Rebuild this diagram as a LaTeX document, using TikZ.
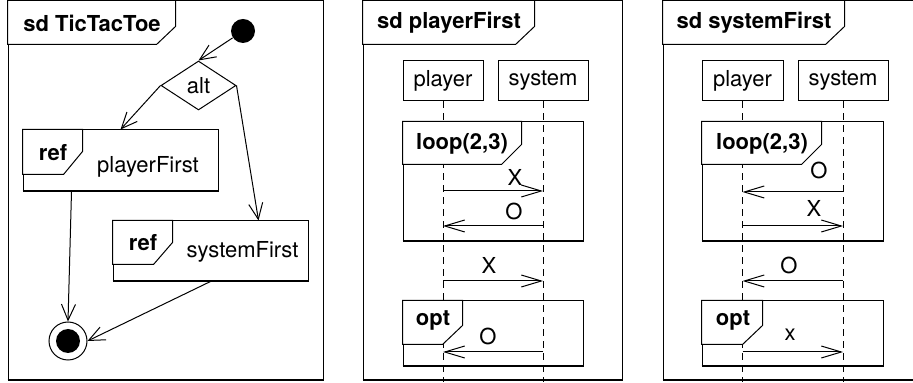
\documentclass[tikz,border=0pt]{standalone}
\usepackage{fontspec}
\setmainfont{TeX Gyre Heros}
\usetikzlibrary{shapes.geometric,arrows.meta,calc}

\begin{document}
\begin{tikzpicture}[x=0.5pt,y=-0.5pt,font=\fontsize{11}{13}\selectfont]
\tikzstyle{box}=[rectangle, draw=black, line width=0.5pt, inner sep=0pt]
\tikzstyle{life}=[box, minimum height=20pt]
\tikzstyle{head}=[draw=black, fill=white, line width=0.5pt]
\tikzstyle{bottom}=[line width=1pt]
\tikzstyle{bold}=[font=\fontsize{11}{13}\selectfont\bfseries]
\tikzstyle{lline}=[dash pattern=on 3.5pt off 2.5pt, line width=0.5pt]
\tikzstyle{flow}=[-{Straight Barb[length=8pt,width=7pt]}, line width=0.5pt]
\tikzstyle{msg}=[-{Straight Barb[length=10pt,width=6pt]}, line width=0.5pt]
\tikzstyle{start}=[circle, fill=black, minimum size=12pt, inner sep=0pt]
\tikzstyle{stop}=[circle, draw=black, line width=0.5pt, minimum size=19pt, inner sep=0pt]
\tikzstyle{choice}=[diamond, draw=black, line width=0.5pt, minimum width=37.5pt, minimum height=24.5pt, inner sep=0pt]

	\useasboundingbox (0,0) rectangle (913,383);

	% sd TicTacToe
	\node[box, minimum width=157.5pt, minimum height=189.5pt] (f1) at (165.5,190.5) {};
	\draw[head] (f1.north west) -- ++(168,0) -- ++(0,26) -- ++(-19,18) -- ++(-149,0) -- cycle;
	\draw[bottom] (f1.south west) -- (f1.south east);
	\node[bold] (t1) at (92,23) {sd TicTacToe};

	\node[start] (init) at (243,31) {};
	\node[choice] (alt) at (198.5,85.5) {alt};

	\node[box, minimum width=97.5pt, minimum height=30.5pt] (pf) at (120.5,160.5) {};
	\draw[head] (pf.north west) -- ++(60,0) -- ++(0,22) -- ++(-19,23) -- ++(-41,0) -- cycle;
	\draw[bottom] (pf.south west) -- (pf.south east);
	\node[bold] (pfr) at (53,152.5) {ref};
	\node (pfn) at (148,167) {playerFirst};

	\node[box, minimum width=97.5pt, minimum height=30pt] (sf) at (210.5,251) {};
	\draw[head] (sf.north west) -- ++(60,0) -- ++(0,22) -- ++(-19,22) -- ++(-41,0) -- cycle;
	\draw[bottom] (sf.south west) -- (sf.south east);
	\node[bold] (sfr) at (143,242.5) {ref};
	\node (sfn) at (242.5,251.5) {systemFirst};

	\node[stop] (fin) at (68,341) {};
	\node[start] (fin2) at (68,341) {};

	\path
		(init) edge [flow] (alt.north)
		(alt.west) edge [flow] (pf.north)
		(alt.east) edge [flow] ($(sf.north west)+(146,0)$)
		($(pf.south west)+(49,0)$) edge [flow] (fin.north)
		(sf.south) edge [flow] (fin.east);

	% sd playerFirst
	\node[box, minimum width=129.5pt, minimum height=189.5pt] (f2) at (492.5,190.5) {};
	\draw[head] (f2.north west) -- ++(172,0) -- ++(0,26) -- ++(-19,18) -- ++(-153,0) -- cycle;
	\draw[bottom] (f2.south west) -- (f2.south east);
	\node[bold] (t2) at (449,23) {sd playerFirst};

	\node[life, minimum width=40pt] (pl2) at (443,81) {player};
	\node[life, minimum width=45pt] (sy2) at (543,81) {system};
	\draw[lline] (pl2.south) -- ([yshift=-1pt]pl2.south |- f2.south);
	\draw[lline] (sy2.south) -- ([yshift=-1pt]sy2.south |- f2.south);

	\node[box, minimum width=90pt, minimum height=59.5pt] (lp2) at (493,181.5) {};
	\draw[head] (lp2.north west) -- ++(119,0) -- ++(0,23) -- ++(-20,20) -- ++(-99,0) -- cycle;
	\draw[bottom] (lp2.south west) -- (lp2.south east);
	\node[bold] (lp2t) at (462,144) {loop(2,3)};

	\node[box, minimum width=90pt, minimum height=32.5pt] (op2) at (493,333.5) {};
	\draw[head] (op2.north west) -- ++(60,0) -- ++(0,25) -- ++(-20,19) -- ++(-40,0) -- cycle;
	\draw[bottom] (op2.south west) -- (op2.south east);
	\node[bold] (op2t) at (433,320) {opt};

	\coordinate (a1) at (pl2 |- 0,191);  \coordinate (b1) at (sy2 |- 0,191);
	\coordinate (a2) at (pl2 |- 0,226);  \coordinate (b2) at (sy2 |- 0,226);
	\coordinate (a3) at (pl2 |- 0,281);  \coordinate (b3) at (sy2 |- 0,281);
	\coordinate (a4) at (pl2 |- 0,352);  \coordinate (b4) at (sy2 |- 0,352);
	\path
		(a1) edge [msg] (b1)
		(b2) edge [msg] (a2)
		(a3) edge [msg] (b3)
		(b4) edge [msg] (a4);
	\node (m1) at (515,177) {X};
	\node (m2) at (514,211) {O};
	\node (m3) at (489,265) {X};
	\node (m4) at (488,336) {O};

	% sd systemFirst
	\node[box, minimum width=126.5pt, minimum height=189.5pt] (f3) at (789.5,190.5) {};
	\draw[head] (f3.north west) -- ++(182,0) -- ++(0,26) -- ++(-19,18) -- ++(-163,0) -- cycle;
	\draw[bottom] (f3.south west) -- (f3.south east);
	\node[bold] (t3) at (754,23) {sd systemFirst};

	\node[life, minimum width=40.5pt] (pl3) at (742.5,81) {player};
	\node[life, minimum width=45pt] (sy3) at (843,81) {system};
	\draw[lline] (pl3.south) -- ([yshift=-1pt]pl3.south |- f3.south);
	\draw[lline] (sy3.south) -- ([yshift=-1pt]sy3.south |- f3.south);

	\node[box, minimum width=90.5pt, minimum height=59.5pt] (lp3) at (792.5,181.5) {};
	\draw[head] (lp3.north west) -- ++(120,0) -- ++(0,23) -- ++(-20,20) -- ++(-100,0) -- cycle;
	\draw[bottom] (lp3.south west) -- (lp3.south east);
	\node[bold] (lp3t) at (762,144) {loop(2,3)};

	\node[box, minimum width=90.5pt, minimum height=32.5pt] (op3) at (792.5,333.5) {};
	\draw[head] (op3.north west) -- ++(61,0) -- ++(0,25) -- ++(-20,19) -- ++(-41,0) -- cycle;
	\draw[bottom] (op3.south west) -- (op3.south east);
	\node[bold] (op3t) at (733,320) {opt};

	\coordinate (c1) at (pl3 |- 0,192);  \coordinate (d1) at (sy3 |- 0,192);
	\coordinate (c2) at (pl3 |- 0,226);  \coordinate (d2) at (sy3 |- 0,226);
	\coordinate (c3) at (pl3 |- 0,281);  \coordinate (d3) at (sy3 |- 0,281);
	\coordinate (c4) at (pl3 |- 0,352);  \coordinate (d4) at (sy3 |- 0,352);
	\path
		(d1) edge [msg] (c1)
		(c2) edge [msg] (d2)
		(d3) edge [msg] (c3)
		(c4) edge [msg] (d4);
	\node (n1) at (819,170) {O};
	\node (n2) at (814,208) {X};
	\node (n3) at (789,265) {O};
	\node (n4) at (790,335) {x};

\end{tikzpicture}
\end{document}
